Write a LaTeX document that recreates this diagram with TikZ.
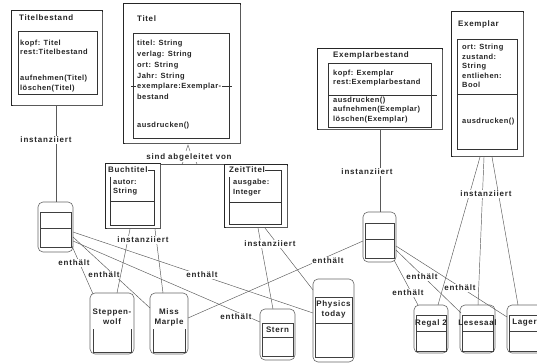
\documentclass[tikz,border=0pt]{standalone}
\usepackage{fontspec}
\setmainfont{Liberation Sans}
\newfontfamily\fbody[LetterSpace=6]{Liberation Sans}
\newfontfamily\flab[LetterSpace=10]{Liberation Sans}
\newfontfamily\fttl[LetterSpace=8]{Liberation Sans}
\newcommand\bodyf{\fbody\bfseries\fontsize{7.5}{9.8}\selectfont}
\newcommand\bodyw{\fbody\bfseries\fontsize{7.5}{10.8}\selectfont}
\newcommand\bodyn{\fbody\bfseries\fontsize{7.5}{9.5}\selectfont}
\newcommand\labf{\flab\bfseries\fontsize{8}{9.6}\selectfont}
\newcommand\ttlf{\fttl\bfseries\fontsize{8}{10}\selectfont}
\begin{document}
\begin{tikzpicture}[x=1pt,y=-1pt,
 cls/.style={draw=black!85,line width=0.6pt},
 shad/.style={draw=black!65,line width=1.1pt},
 inr/.style={draw=black!80,line width=0.5pt},
 objbox/.style={draw=black!60,line width=0.6pt,rounded corners=5pt},
 comp/.style={draw=black!75,line width=0.5pt},
 conn/.style={draw=black!65,line width=0.45pt},
 lbl/.style={font=\labf,fill=white,inner sep=0.8pt,text=black!85},
 ttl/.style={font=\ttlf,anchor=west,inner sep=0pt,text=black!85},
 txt/.style={font=\bodyf,anchor=north west,inner sep=0pt,align=left,text=black!85},
 oname/.style={font=\ttlf,align=center,inner sep=0pt,text=black!85}]
\useasboundingbox (0,0) rectangle (537,363);
\clip (0,0) rectangle (537,363);
\fill[white] (0,0) rectangle (537,363);

% ---------- Titelbestand ----------
\draw[cls] (11,10) rectangle (102,105);
\draw[shad] (102.6,12) -- (102.6,105.6) -- (13,105.6);
\draw[inr] (18,31) rectangle (97,94);
\node[ttl] (tbT) at (19,18) {Titelbestand};
\node[txt] (tbA) at (20,39.5) {kopf: Titel\\rest:Titelbestand};
\node[txt] (tbM) at (20,75) {aufnehmen(Titel)\\löschen(Titel)};
\coordinate (tbB) at (56,106);

% ---------- Titel ----------
\draw[cls] (123,3) rectangle (240,143);
\draw[shad] (240.6,5) -- (240.6,143.6) -- (125,143.6);
\draw[inr] (133,33) rectangle (229,138);
\node[ttl] (tiT) at (137,19) {Titel};
\node[txt,font=\bodyw] (tiA) at (137,40) {titel: String\\verlag: String\\ort: String\\Jahr: String\\exemplare:Exemplar-\\bestand};
\draw[inr] (131,86) -- (135.5,86);
\draw[inr] (222,86) -- (232,86);
\node[txt] (tiM) at (137,122) {ausdrucken()};
\coordinate (tiB) at (188,145);

% ---------- Exemplarbestand ----------
\draw[cls] (317,48) rectangle (442,129);
\draw[shad] (442.6,50) -- (442.6,129.6) -- (319,129.6);
\draw[inr] (328,63) rectangle (431,127);
\draw[inr] (328,95) -- (437,95);
\node[ttl] (ebT) at (333,55) {Exemplarbestand};
\node[txt,font=\bodyn] (ebA) at (333,69.5) {kopf: Exemplar\\rest:Exemplarbestand};
\node[txt,font=\bodyf] (ebM) at (333,96.5) {ausdrucken()\\aufnehmen(Exemplar)\\löschen(Exemplar)};
\coordinate (ebB) at (380,130);

% ---------- Exemplar ----------
\draw[cls] (451,11) rectangle (523,156);
\draw[shad] (523.6,13) -- (523.6,156.6) -- (453,156.6);
\draw[inr] (457,39) rectangle (517,149);
\draw[inr] (457,94) -- (517,94);
\node[ttl] (exT) at (458,24) {Exemplar};
\node[txt,font=\bodyn] (exA) at (462,44) {ort: String\\zustand:\\String\\entliehen:\\Bool};
\node[txt] (exM) at (462,118) {ausdrucken()};
\coordinate (exB1) at (480,157);
\coordinate (exB2) at (484,157);
\coordinate (exB3) at (492,157);

% ---------- Buchtitel ----------
\draw[cls] (105,163) rectangle (160,228);
\draw[shad] (160.6,165) -- (160.6,228.6) -- (107,228.6);
\draw[inr] (110,177) -- (110,225) -- (154,225) -- (154,170) -- (148,170);
\draw[inr] (110,201) -- (154,201);
\node[ttl] (buT) at (108,170) {Buchtitel};
\node[txt] (buA) at (113,179) {autor:\\String};
\coordinate (buTR) at (160,164);
\coordinate (buB1) at (130,229);
\coordinate (buB2) at (155,229);

% ---------- ZeitTitel ----------
\draw[cls] (224,164) rectangle (287,227);
\draw[shad] (287.6,166) -- (287.6,227.6) -- (226,227.6);
\draw[inr] (229,177) -- (229,224) -- (281,224) -- (281,170) -- (265,170);
\draw[inr] (229,202) -- (281,202);
\node[ttl] (ztT) at (229,170) {ZeitTitel};
\node[txt] (ztA) at (233,179) {ausgabe:\\Integer};
\coordinate (ztTL) at (224,164);
\coordinate (ztB1) at (258,228);
\coordinate (ztB2) at (265,228);

% ---------- inheritance ----------
\draw[conn] (buTR) -- (ztTL);
\draw[conn] (182,164) -- (183.5,161);
\draw[conn] (197,164) -- (195.5,161);
\draw[conn] (186,151) -- (tiB) -- (190,151);
\node[lbl] (abg) at (189,157) {sind abgeleitet von};

% ---------- objects ----------
% Titelbestand object
\draw[objbox] (38,202) rectangle (73,252);
\draw[comp] (40,212) rectangle (71,228);
\draw[comp] (40,228) rectangle (71,247);
\coordinate (tboT) at (56,202);
\coordinate (tboR1) at (73,232);
\coordinate (tboR2) at (73,237);
\coordinate (tboR3) at (73,241);
\coordinate (tboR4) at (72,246);
% Exemplarbestand object
\draw[objbox] (363,212) rectangle (396,262);
\draw[comp] (365,223) rectangle (394,239);
\draw[comp] (365,239) rectangle (394,258);
\coordinate (eboT) at (380,212);
\coordinate (eboL) at (363,241);
\coordinate (eboR1) at (396,246);
\coordinate (eboR2) at (396,250);
\coordinate (eboR3) at (394,260);
% Steppenwolf
\draw[objbox] (90,293) rectangle (134,354);
\draw[comp] (93,329) -- (93,352) -- (131,352) -- (131,329);
\node[oname] (stw) at (112,317) {Steppen-\\wolf};
\coordinate (stwT1) at (93,294);
\coordinate (stwT2) at (117,293);
% Miss Marple
\draw[objbox] (150,293) rectangle (188,354);
\draw[comp] (153,329) -- (153,352) -- (185,352) -- (185,329);
\node[oname] (mm) at (169,317) {Miss\\Marple};
\coordinate (mmT) at (163,293);
\coordinate (mmL) at (150,308);
\coordinate (mmR) at (188,318);
% Stern
\draw[objbox] (260,309) rectangle (295,360);
\draw[comp] (262,323) rectangle (293,337);
\draw[comp] (262,337) rectangle (293,356);
\node[oname] (st) at (277.5,330) {Stern};
\coordinate (stT) at (273,309);
\coordinate (stL) at (260,322);
% Physics today
\draw[objbox] (313,279) rectangle (354,362);
\draw[comp] (315,297) rectangle (352,323);
\draw[comp] (315,323) rectangle (352,357);
\node[oname] (ph) at (333.5,309.5) {Physics\\today};
\coordinate (phL1) at (313,290);
\coordinate (phL2) at (313,313);
% Regal 2
\draw[objbox] (414,305) rectangle (448,353);
\draw[comp] (416,315) rectangle (446,331);
\draw[comp] (416,331) rectangle (446,351);
\node[oname] (rg) at (431,323) {Regal 2};
\coordinate (rgT1) at (418,305);
\coordinate (rgT2) at (438,305);
% Lesesaal
\draw[objbox] (460,305) rectangle (495,353);
\draw[comp] (462,315) rectangle (493,331);
\draw[comp] (462,331) rectangle (493,351);
\node[oname] (ls) at (477.5,323) {Lesesaal};
\coordinate (lsL) at (461,313);
\coordinate (lsT) at (478,305);
% Lager
\draw[objbox] (507,305) rectangle (542,353);
\draw[comp] (509,315) rectangle (540,331);
\draw[comp] (509,331) rectangle (540,351);
\node[oname] (lg) at (524.5,323) {Lager};
\coordinate (lgL) at (507,317);
\coordinate (lgT) at (518,305);

% ---------- enthaelt connectors ----------
\draw[conn] (tboR4) -- (stwT1);
\draw[conn] (tboR2) -- (mmL);
\draw[conn] (tboR1) -- (phL2);
\draw[conn] (tboR3) -- (stL);
\draw[conn] (mmR) -- (eboL);
\draw[conn] (eboR1) -- (lgL);
\draw[conn] (eboR2) -- (lsL);
\draw[conn] (eboR3) -- (rgT1);
\node[lbl] (e1) at (74,263) {enthält};
\node[lbl] (e2) at (104,275) {enthält};
\node[lbl] (e3) at (202,275) {enthält};
\node[lbl] (e4) at (236,317) {enthält};
\node[lbl] (e5) at (328,261) {enthält};
\node[lbl] (e6) at (422,277) {enthält};
\node[lbl] (e7) at (408,293) {enthält};
\node[lbl] (e8) at (460,288) {enthält};

% ---------- instanziiert connectors ----------
\draw[conn] (tbB) -- (tboT);
\draw[conn] (ebB) -- (eboT);
\draw[conn] (exB1) -- (rgT2);
\draw[conn] (exB2) -- (lsT);
\draw[conn] (exB3) -- (lgT);
\draw[conn] (buB1) -- (stwT2);
\draw[conn] (buB2) -- (mmT);
\draw[conn] (ztB1) -- (stT);
\draw[conn] (ztB2) -- (phL1);
\node[lbl] (i1) at (46,140) {instanziiert};
\node[lbl] (i2) at (367,172) {instanziiert};
\node[lbl] (i3) at (486,194) {instanziiert};
\node[lbl] (i4) at (143,240) {instanziiert};
\node[lbl] (i5) at (270,244) {instanziiert};
\end{tikzpicture}
\end{document}
